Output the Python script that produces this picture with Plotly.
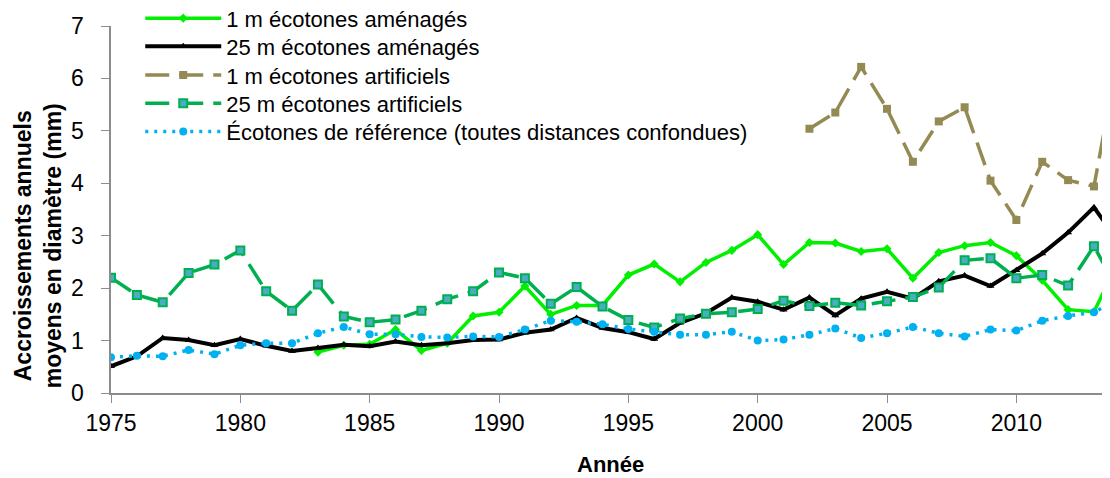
import plotly.graph_objects as go

annees = list(range(1975, 2015))
graduations_y = [0, 1, 2, 3, 4, 5, 6, 7]

# 1 m écotones aménagés (débute en 1983)
annees_1m_amen = list(range(1983, 2015))
val_1m_amen = [0.78, 0.91, 0.93, 1.21, 0.81, 0.95, 1.47, 1.54, 2.04, 1.50, 1.67, 1.67,
               2.25, 2.46, 2.12, 2.49, 2.72, 3.02, 2.45, 2.87, 2.86, 2.70, 2.75, 2.19,
               2.68, 2.81, 2.87, 2.62, 2.15, 1.59, 1.55, 2.56]

# 25 m écotones aménagés
val_25m_amen = [0.51, 0.70, 1.05, 1.01, 0.91, 1.03, 0.90, 0.80, 0.86, 0.92, 0.89, 0.98,
                0.91, 0.95, 1.01, 1.02, 1.15, 1.21, 1.43, 1.24, 1.16, 1.03, 1.34, 1.52,
                1.82, 1.74, 1.59, 1.82, 1.48, 1.80, 1.93, 1.80, 2.13, 2.24, 2.04, 2.34,
                2.66, 3.06, 3.54, 2.85]

# 1 m écotones artificiels (visible à partir de 2002)
annees_1m_arti = list(range(2002, 2015))
val_1m_arti = [5.04, 5.35, 6.22, 5.42, 4.41, 5.18, 5.45, 4.05, 3.30, 4.41, 4.06, 3.94, 6.6]

# 25 m écotones artificiels
val_25m_arti = [2.20, 1.87, 1.73, 2.29, 2.45, 2.72, 1.94, 1.57, 2.07, 1.46, 1.35, 1.40,
                1.57, 1.79, 1.94, 2.30, 2.19, 1.70, 2.02, 1.65, 1.39, 1.25, 1.42, 1.51,
                1.54, 1.60, 1.76, 1.66, 1.72, 1.67, 1.75, 1.83, 2.01, 2.53, 2.57, 2.19,
                2.25, 2.05, 2.80, 1.90]

# Écotones de référence
val_ref = [0.68, 0.71, 0.70, 0.82, 0.74, 0.91, 0.95, 0.95, 1.14, 1.26, 1.12, 1.12,
           1.07, 1.06, 1.08, 1.07, 1.21, 1.38, 1.36, 1.31, 1.22, 1.17, 1.11, 1.11,
           1.17, 1.00, 1.02, 1.11, 1.23, 1.05, 1.14, 1.26, 1.14, 1.08, 1.21, 1.19,
           1.38, 1.47, 1.54, 1.80]

fig = go.Figure()

# une légende par série pour reproduire l'interligne serré d'Excel
fig.add_trace(go.Scatter(x=annees_1m_amen, y=val_1m_amen, mode='lines+markers',
                         name='1 m écotones aménagés', legend='legend',
                         line=dict(color='#00F000', width=3.5),
                         marker=dict(symbol='diamond', size=7, color='#00F000')))
fig.add_trace(go.Scatter(x=annees, y=val_25m_amen, mode='lines+markers',
                         name='25 m écotones aménagés', legend='legend2',
                         line=dict(color='black', width=4),
                         marker=dict(symbol='triangle-up', size=7, color='black')))
fig.add_trace(go.Scatter(x=annees_1m_arti, y=val_1m_arti, mode='lines+markers',
                         name='1 m écotones artificiels', legend='legend3',
                         line=dict(color='#948A54', width=3.5, dash='24px,10px'),
                         marker=dict(symbol='square', size=8, color='#948A54')))
fig.add_trace(go.Scatter(x=annees, y=val_25m_arti, mode='lines+markers',
                         name='25 m écotones artificiels', legend='legend4',
                         line=dict(color='#00B050', width=3.5, dash='24px,10px'),
                         marker=dict(symbol='square', size=8, color='#4BACC6',
                                     line=dict(color='#00B050', width=2))))
fig.add_trace(go.Scatter(x=annees, y=val_ref, mode='lines+markers',
                         name='Écotones de référence (toutes distances confondues)',
                         legend='legend5',
                         line=dict(color='#00B0F0', width=3.5, dash='3px,6px'),
                         marker=dict(symbol='circle', size=8, color='#00B0F0')))

leg_y = [0.978, 0.918, 0.857, 0.797, 0.737]


def leg(y):
    return dict(x=0.12, y=y, xref='container', yref='container',
                xanchor='left', yanchor='middle', bgcolor='rgba(0,0,0,0)',
                font=dict(size=22), itemwidth=76, borderwidth=0)


# étiquettes de l'axe Y placées à distance de l'axe, comme dans Excel
etiquettes_y = [dict(text=str(v), x=-0.025, y=v, xref='paper', yref='y',
                     xanchor='right', yanchor='middle', showarrow=False,
                     font=dict(size=23)) for v in graduations_y]

fig.update_layout(
    width=1102, height=470,
    margin=dict(l=103, r=0, t=18, b=85, autoexpand=False),
    paper_bgcolor='white', plot_bgcolor='white',
    font=dict(family='Liberation Sans, Arial', size=23, color='black'),
    showlegend=True,
    legend=leg(leg_y[0]), legend2=leg(leg_y[1]), legend3=leg(leg_y[2]),
    legend4=leg(leg_y[3]), legend5=leg(leg_y[4]),
    xaxis=dict(range=[1975, 2013.62], tick0=1975, dtick=5, showgrid=False,
               showline=True, linecolor='#8C8C8C', linewidth=2,
               ticks='outside', ticklen=8, tickcolor='#8C8C8C', zeroline=False),
    yaxis=dict(range=[0, 7], tickvals=graduations_y, showticklabels=False,
               showgrid=False, showline=True, linecolor='#8C8C8C', linewidth=2,
               ticks='outside', ticklen=8, tickcolor='#8C8C8C', zeroline=False),
    annotations=etiquettes_y + [
        dict(text='<b>Accroissements annuels<br>moyens en diamètre (mm)</b>',
             xref='paper', yref='paper', x=-0.073, y=0.40,
             xanchor='center', yanchor='middle', textangle=-90,
             showarrow=False, font=dict(size=23)),
        dict(text='<b>Année</b>', xref='paper', yref='paper', x=0.5, y=-0.196,
             xanchor='center', yanchor='middle', showarrow=False,
             font=dict(size=22)),
    ],
)

fig.write_html("out.html")
